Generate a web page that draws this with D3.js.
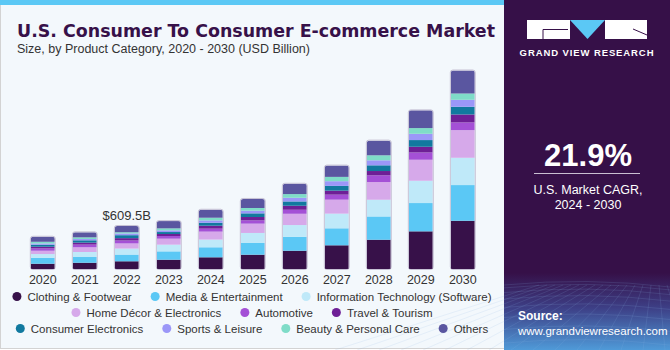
<!DOCTYPE html>
<meta charset="utf-8" />
<html>
<head>
  <style>
    body { margin: 0; background: #fff; }
    svg text { font-family: "Liberation Sans", Arial, sans-serif; }
  </style>
  <script src="https://cdn.jsdelivr.net/npm/d3@7"></script>
</head>
<body>
  <div id="chart"></div>
  <script>
    // ---------- data (USD Billion) ----------
    const years = ["2020", "2021", "2022", "2023", "2024", "2025", "2026", "2027", "2028", "2029", "2030"];

    const categories = [
      "Clothing & Footwear", "Media & Entertainment", "Information Technology (Software)",
      "Home Décor & Electronics", "Automotive", "Travel & Tourism",
      "Consumer Electronics", "Sports & Leisure", "Beauty & Personal Care", "Others"
    ];

    const clothing    = [75, 89, 109.5, 132, 166, 203, 259, 336, 415, 534, 684];
    const media       = [85, 81, 95, 118, 142, 166, 198, 241, 330, 401, 506];
    const infoTech    = [52, 71, 85, 95, 109, 142, 166, 208, 237, 316, 387];
    const homeDecor   = [47, 67, 73, 85, 113, 132, 160, 198, 251, 298, 392];
    const automotive  = [33, 38, 42, 38, 42, 47, 57, 71, 95, 103, 109];
    const travel      = [24, 28, 33, 28, 42, 47, 57, 57, 61, 81, 113];
    const consumerEl  = [28, 33, 42, 28, 42, 52, 61, 67, 81, 95, 109];
    const sports      = [18, 18, 24, 24, 33, 38, 52, 67, 71, 89, 99];
    const beauty      = [24, 24, 18, 28, 38, 38, 52, 61, 71, 81, 89];
    const others      = [71, 71, 88, 103, 113, 128, 146, 160, 208, 251, 326];

    const annotation = { year: "2022", label: "$609.5B" };
    const cagr = "21.9%";

    const colors = ["#371149", "#5bc8f5", "#bfe9f9", "#d6a9ea", "#a450d6",
                    "#6e1f96", "#11799f", "#9b97f8", "#7fdcc8", "#5a56a0"];

    // ---------- svg ----------
    const W = 670, H = 350;
    const svg = d3.select("#chart").append("svg")
      .attr("width", W).attr("height", H);

    // left panel
    svg.append("rect").attr("x", 0.5).attr("y", 0.5).attr("width", 504).attr("height", 348)
      .attr("fill", "#f3f8fc").attr("stroke", "#d3d3d3");
    svg.append("rect").attr("x", 0).attr("y", 0).attr("width", 505).attr("height", 5)
      .attr("fill", "#5bc8f5");

    // right panel
    const defs = svg.append("defs");
    const grad = defs.append("linearGradient").attr("id", "panelGrad")
      .attr("x1", 0).attr("y1", 0).attr("x2", 0).attr("y2", 1);
    grad.append("stop").attr("offset", "0%").attr("stop-color", "#361048");
    grad.append("stop").attr("offset", "78%").attr("stop-color", "#361048");
    grad.append("stop").attr("offset", "88%").attr("stop-color", "#3d3f86");
    grad.append("stop").attr("offset", "100%").attr("stop-color", "#4f9ad8");
    svg.append("rect").attr("x", 504).attr("y", 0).attr("width", W - 504).attr("height", H)
      .attr("fill", "url(#panelGrad)");

    // faint perspective grid at the bottom of the panel
    const grid = svg.append("g").attr("stroke", "#8fb4e6").attr("stroke-opacity", 0.25)
      .attr("stroke-width", 0.6).attr("fill", "none");
    d3.range(0, 9).forEach(i => {
      const y = 285 + i * i * 0.9 + i * 2;
      grid.append("path").attr("d", `M504,${y} Q587,${y - 8} 670,${y + 2}`);
    });
    d3.range(-6, 20).forEach(i => {
      grid.append("line").attr("x1", 587 + i * 8).attr("y1", 285)
        .attr("x2", 587 + i * 22 - 120).attr("y2", 350);
    });

    // logo
    const logo = svg.append("g");
    logo.append("rect").attr("x", 527).attr("y", 20).attr("width", 43).attr("height", 19).attr("fill", "#fff");
    logo.append("path").attr("d", "M570,20 L605,20 L587.5,39 Z").attr("fill", "#5bc8f5");
    logo.append("rect").attr("x", 605).attr("y", 20).attr("width", 42).attr("height", 19).attr("fill", "#fff");
    logo.append("path").attr("d", "M543,39 L543,29.5 L568,29.5").attr("stroke", "#361048")
      .attr("stroke-width", 1).attr("fill", "none");
    logo.append("path").attr("d", "M633,29 L647,35").attr("stroke", "#361048")
      .attr("stroke-width", 1).attr("fill", "none");
    logo.append("text").attr("x", 587).attr("y", 56).attr("text-anchor", "middle")
      .attr("fill", "#fff").attr("font-size", 9.5).attr("font-weight", 700)
      .attr("letter-spacing", 0.9).text("GRAND VIEW RESEARCH");

    // CAGR block
    svg.append("text").attr("x", 588).attr("y", 166).attr("text-anchor", "middle")
      .attr("fill", "#fff").attr("font-size", 31).attr("font-weight", 700).text(cagr);
    svg.append("line").attr("x1", 534).attr("x2", 640).attr("y1", 173.5).attr("y2", 173.5)
      .attr("stroke", "#c9bfd2").attr("stroke-width", 1);
    svg.append("text").attr("x", 588).attr("y", 194).attr("text-anchor", "middle")
      .attr("fill", "#fff").attr("font-size", 12.5).text("U.S. Market CAGR,");
    svg.append("text").attr("x", 588).attr("y", 209).attr("text-anchor", "middle")
      .attr("fill", "#fff").attr("font-size", 12.5).text("2024 - 2030");

    // source
    svg.append("text").attr("x", 518).attr("y", 320).attr("fill", "#fff")
      .attr("font-size", 12).attr("font-weight", 700).text("Source:");
    svg.append("text").attr("x", 518).attr("y", 335).attr("fill", "#fff")
      .attr("font-size", 11.5).text("www.grandviewresearch.com");

    // titles
    svg.append("text").attr("x", 17).attr("y", 37)
      .attr("fill", "#371149").attr("font-size", 17).attr("font-weight", 900)
      .style("font-family", "'DejaVu Sans', sans-serif")
      .attr("textLength", 478).attr("lengthAdjust", "spacingAndGlyphs")
      .text("U.S. Consumer To Consumer E-commerce Market");
    svg.append("text").attr("x", 17).attr("y", 53)
      .attr("fill", "#333").attr("font-size", 12.5)
      .text("Size, by Product Category, 2020 - 2030 (USD Billion)");

    // ---------- scales ----------
    const series = [clothing, media, infoTech, homeDecor, automotive, travel, consumerEl, sports, beauty, others];
    const table = years.map((y, i) => {
      const row = { year: y };
      categories.forEach((c, k) => row[c] = series[k][i]);
      return row;
    });
    const stacked = d3.stack().keys(categories)(table);

    const x = d3.scaleBand().domain(years).range([21.8, 483.8])
      .paddingInner(0.43).paddingOuter(0.215);
    const y = d3.scaleLinear().domain([0, 3000]).range([269, 57.4]);

    const totals = table.map(r => d3.sum(categories, c => r[c]));

    // clip paths with rounded tops
    years.forEach((yr, i) => {
      defs.append("clipPath").attr("id", "clip" + yr)
        .append("rect").attr("x", x(yr)).attr("y", y(totals[i]))
        .attr("width", x.bandwidth()).attr("height", y(0) - y(totals[i]) + 4)
        .attr("rx", 2.5);
    });

    const bars = svg.append("g");
    stacked.forEach((layer, k) => {
      bars.selectAll(null).data(layer).join("rect")
        .attr("clip-path", d => `url(#clip${d.data.year})`)
        .attr("x", d => x(d.data.year))
        .attr("y", d => y(d[1]))
        .attr("width", x.bandwidth())
        .attr("height", d => y(d[0]) - y(d[1]))
        .attr("fill", colors[k]);
    });
    // thin outline around each bar
    bars.selectAll(null).data(years).join("rect")
      .attr("x", d => x(d) - 0.5)
      .attr("y", (d, i) => y(totals[i]) - 0.5)
      .attr("width", x.bandwidth() + 1)
      .attr("height", (d, i) => y(0) - y(totals[i]) + 1)
      .attr("rx", 2.5)
      .attr("fill", "none").attr("stroke", "#8d7fa3").attr("stroke-opacity", 0.45);

    // x axis labels
    const xAxis = svg.append("g").attr("transform", `translate(0,${y(0)})`)
      .call(d3.axisBottom(x).tickSize(0).tickPadding(6));
    xAxis.select(".domain").remove();
    xAxis.selectAll("text").attr("font-size", 12.5).attr("fill", "#333")
      .style("font-family", "'Liberation Sans', Arial, sans-serif");

    // annotation
    const ai = years.indexOf(annotation.year);
    svg.append("text").attr("x", x(annotation.year) + x.bandwidth() / 2)
      .attr("y", y(totals[ai]) - 6).attr("text-anchor", "middle")
      .attr("fill", "#333").attr("font-size", 13).text(annotation.label);

    // ---------- legend ----------
    const rows = [[0, 1, 2], [3, 4, 5], [6, 7, 8, 9]];
    const rowY = [297, 313, 329];
    const legend = svg.append("g");
    rows.forEach((row, r) => {
      const g = legend.append("g");
      let cx = 0;
      row.forEach(k => {
        g.append("circle").attr("cx", cx + 4.5).attr("cy", rowY[r] - 0.5).attr("r", 4.5)
          .attr("fill", colors[k]);
        const t = g.append("text").attr("x", cx + 15).attr("y", rowY[r] + 4)
          .attr("fill", "#333").attr("font-size", 11.5).text(categories[k]);
        cx += 15 + t.node().getComputedTextLength() + 19;
      });
      const wRow = cx - 19;
      g.attr("transform", `translate(${252 - wRow / 2},0)`);
    });
  </script>
</body>
</html>
